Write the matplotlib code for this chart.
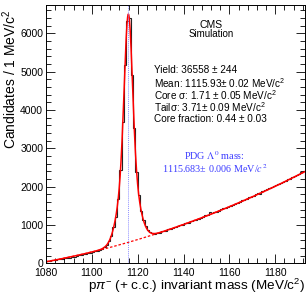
import numpy as np
import matplotlib
matplotlib.use("Agg")
import matplotlib.pyplot as plt
from matplotlib.ticker import MultipleLocator

# histogram: 1 MeV bins starting at 1080 MeV
BIN_START = 1080
counts = [
    52, 60, 75, 78, 96, 108, 104, 118, 128, 138,
    150, 160, 176, 190, 204, 226, 232, 250, 262, 280,
    296, 310, 330, 352, 378, 425, 472, 590, 712, 948,
    1220, 1690, 2440, 3700, 5180, 6330, 6390, 4920, 3540, 2390,
    1790, 1360, 1140, 975, 880, 815, 790, 770, 800, 790,
    830, 845, 850, 885, 905, 910, 955, 975, 990, 1000,
    1040, 1050, 1060, 1105, 1125, 1140, 1150, 1195, 1220, 1260,
    1255, 1330, 1300, 1345, 1350, 1360, 1410, 1445, 1450, 1480,
    1500, 1530, 1560, 1575, 1600, 1650, 1650, 1690, 1720, 1740,
    1765, 1800, 1840, 1820, 1880, 1900, 1930, 1960, 1990, 2010,
    2040, 2060, 2090, 2130, 2150, 2190, 2210, 2240, 2270, 2300,
    2330, 2370, 2400,
]

# fit results shown on the plot
YIELD = 36558
MEAN = 1115.93
CORE_SIGMA = 1.71
TAIL_SIGMA = 3.71
CORE_FRAC = 0.44
PDG_MASS = 1115.683
# background polynomial in (m - 1080)
BKG_COEF = [40.0, 11.0, 0.087]

XMIN, XMAX = 1080, 1193
YMAX = 6740


def gauss(x, mu, s):
    return np.exp(-0.5 * ((x - mu) / s) ** 2) / (s * np.sqrt(2 * np.pi))


def background(x):
    t = x - BIN_START
    return BKG_COEF[0] + BKG_COEF[1] * t + BKG_COEF[2] * t ** 2


def total_fit(x):
    sig = CORE_FRAC * gauss(x, MEAN, CORE_SIGMA) + (1 - CORE_FRAC) * gauss(x, MEAN, TAIL_SIGMA)
    return YIELD * sig + background(x)


plt.rcParams['font.family'] = ['Liberation Sans', 'DejaVu Sans']
plt.rcParams['mathtext.fontset'] = 'custom'
plt.rcParams['mathtext.rm'] = 'Liberation Sans'
plt.rcParams['mathtext.it'] = 'Liberation Sans:italic'

W, H = 308, 296
fig = plt.figure(figsize=(W / 100, H / 100), dpi=100)
ax = fig.add_axes([46 / W, 1 - 263.3 / H, (305 - 46) / W, (263.3 - 5) / H])

edges = np.arange(BIN_START, BIN_START + len(counts) + 1)
ax.stairs(counts, edges, color='#222222', linewidth=0.8)

xs = np.linspace(XMIN, XMAX, 1200)
ax.plot(xs, background(xs), color='red', linewidth=0.9, linestyle=(0, (2, 1.5)))
ax.plot(xs, total_fit(xs), color='red', linewidth=1.1)
ax.axvline(PDG_MASS, color='#8f8fff', linewidth=0.7, linestyle=(0, (1, 1)))

ax.set_xlim(XMIN, XMAX)
ax.set_ylim(0, YMAX)
ax.xaxis.set_major_locator(MultipleLocator(20))
ax.xaxis.set_minor_locator(MultipleLocator(4))
ax.yaxis.set_major_locator(MultipleLocator(1000))
ax.yaxis.set_minor_locator(MultipleLocator(200))
ax.tick_params(which='both', direction='in', top=True, right=True, labelsize=7.5, width=0.6)
ax.tick_params(which='major', length=6.5)
ax.tick_params(which='minor', length=3.5)
ax.tick_params(axis='y', pad=2)
ax.tick_params(axis='x', pad=3.5)
for s in ax.spines.values():
    s.set_linewidth(0.7)

ax.set_xlabel(r'p$\pi^{-}$ (+ c.c.) invariant mass (MeV/c$^{2}$)', fontsize=9.7, loc='right', labelpad=-1)
ax.set_ylabel(r'Candidates / 1 MeV/c$^{2}$', fontsize=10, loc='top')
ax.yaxis.set_label_coords((19 - 46) / (305 - 46), 0.985)

# CMS label and fit summary
fig.text(211.5 / W, 1 - 24.5 / H, 'CMS', fontsize=7.5, ha='center', va='center')
fig.text(211.5 / W, 1 - 34 / H, 'Simulation', fontsize=7, ha='center', va='center')
lines = [
    'Yield: 36558 ± 244',
    r'Mean: 1115.93± 0.02 MeV/c$^{2}$',
    r'Core σ: 1.71 ± 0.05 MeV/c$^{2}$',
    r'Tailσ: 3.71± 0.09 MeV/c$^{2}$',
    'Core fraction: 0.44 ± 0.03',
]
ys = [70, 82.7, 95, 106.7, 119]
for txt, yy in zip(lines, ys):
    fig.text(154 / W, 1 - yy / H, txt, fontsize=7.2, ha='left', va='center')

fig.text(214.5 / W, 1 - 156 / H, r'PDG $\Lambda^{0}$ mass:', fontsize=7.3, ha='center', va='center',
         color='#3b3bff', family='Liberation Serif', math_fontfamily='stix')
fig.text(214.5 / W, 1 - 169 / H, r'1115.683± 0.006 MeV/$c^{2}$', fontsize=7.3, ha='center', va='center',
         color='#3b3bff', family='Liberation Serif', math_fontfamily='stix')

fig.savefig('out.png', dpi=100)
